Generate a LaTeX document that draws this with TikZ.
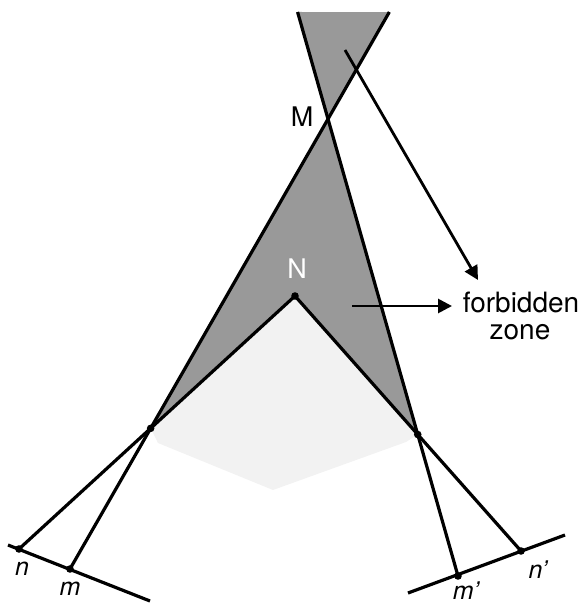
\documentclass[tikz,border=0pt]{standalone}
\usepackage{fontspec}
\setmainfont{TeX Gyre Heros}
\usetikzlibrary{calc,arrows.meta}
\definecolor{zonegray}{gray}{0.6}
\definecolor{shadegray}{gray}{0.95}
\tikzset{
  ray/.style={line width=3.2pt},
  dot/.style={fill=black},
  pointer/.style={line width=2.8pt,-{Triangle[length=14pt,width=14pt]}},
  bigtext/.style={font=\fontsize{27}{27}\selectfont, inner sep=0pt},
  zonetext/.style={font=\fontsize{28}{28}\selectfont, inner sep=0pt, anchor=base},
  ptlabel/.style={font=\fontsize{25}{25}\selectfont\itshape, inner sep=0pt},
}
\begin{document}
\begin{tikzpicture}[x=1pt,y=-1pt]
\useasboundingbox (0,0) rectangle (587,605);
% key points
\coordinate (n) at (19,549);
\coordinate (m) at (70,569);
\coordinate (mp) at (458,576);
\coordinate (np) at (521,551);
\coordinate (N) at (295,296);
\coordinate (M) at (328,119);
\coordinate (A) at (intersection of n--N and m--M);
\coordinate (B) at (intersection of np--N and mp--M);
\coordinate (TR) at (intersection of m--M and 0,12--587,12);
\coordinate (TL) at (intersection of mp--M and 0,12--587,12);
% bottom lines
\coordinate (BL1) at (8,545);
\coordinate (BL2) at (150,601);
\coordinate (BR1) at (408,593);
\coordinate (BR2) at (565,535);
% light zone
\coordinate (L1) at (158,443);
\coordinate (Lb) at (273,490);
\coordinate (R1) at (406,442);
\fill[shadegray] (N) -- (A) -- (L1) -- (Lb) -- (R1) -- (B) -- cycle;
% forbidden zone
\fill[zonegray] (TL) -- (TR) -- (M) -- cycle;
\fill[zonegray] (M) -- (A) -- (N) -- (B) -- cycle;
% rays
\draw[ray] (m) -- (TR);
\draw[ray] (mp) -- (TL);
\draw[ray,line join=miter] (n) -- (N) -- (np);
\draw[ray] (BL1) -- (BL2);
\draw[ray] (BR1) -- (BR2);
% dots
\foreach \p in {n,m,mp,np,A,B,N} \fill[dot] (\p) circle (3.8);
% arrows
\coordinate (a1s) at (345,50);
\coordinate (a1e) at (478,280);
\coordinate (a2s) at (352,306);
\coordinate (a2e) at (452,306);
\draw[pointer] (a1s) -- (a1e);
\draw[pointer] (a2s) -- (a2e);
% labels
\node[bigtext] (Mlab) at (302,117) {M};
\node[bigtext,white] (Nlab) at (297,269) {N};
\node[zonetext] (fz1) at (521,312) {forbidden};
\node[zonetext] (fz2) at (520,339) {zone};
\node[ptlabel] (nlab) at (22,569) {n};
\node[ptlabel] (mlab) at (70,589) {m};
\node[ptlabel] (mplab) at (466,591) {m'};
\node[ptlabel] (nplab) at (538,570) {n'};
\end{tikzpicture}
\end{document}
